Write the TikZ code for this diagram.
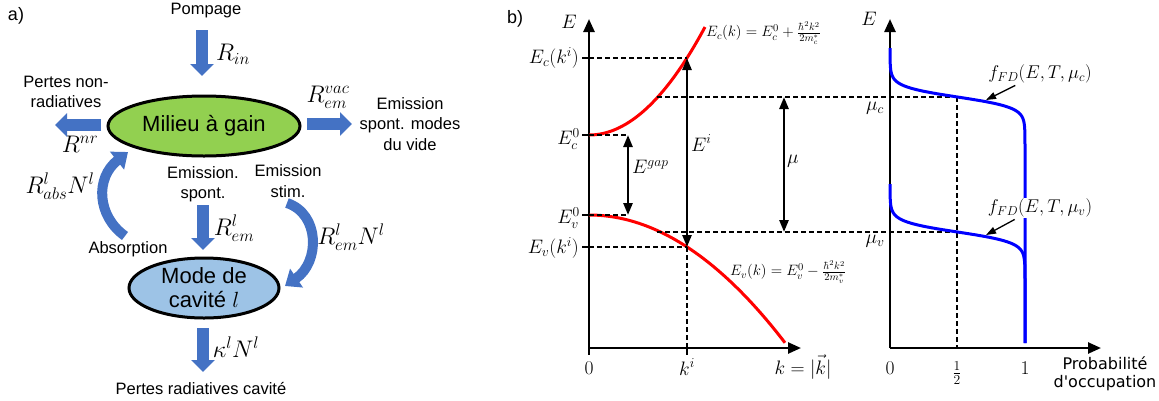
\RequirePackage{fix-cm}
\documentclass[tikz,border=0pt]{standalone}
\usepackage{fontspec}
\newfontfamily\arialf{Liberation Sans}
\newfontfamily\dejavuf{DejaVu Sans}
\usetikzlibrary{arrows.meta,shapes.geometric}
\definecolor{officeblue}{HTML}{4472C4}
\definecolor{gaingreen}{HTML}{92D050}
\definecolor{cavblue}{HTML}{9DC3E6}
\definecolor{fdblue}{HTML}{0000FF}
\begin{document}
\begin{tikzpicture}[x=1pt,y=-1pt,
  txt/.style={font=\arialf\fontsize{16.5}{20.5}\selectfont, align=center, inner sep=0pt},
  bigtxt/.style={font=\arialf\fontsize{22}{24}\selectfont, align=center, inner sep=0pt},
  mlab/.style={font=\fontsize{24}{28}\selectfont, inner sep=0pt},
  blk/.style={draw=officeblue, line width=12pt, -{Triangle[length=12pt,width=23pt]}},
  cblk/.style={draw=officeblue, line width=10pt, -{Triangle[length=14pt,width=22pt]}},
  ax/.style={line width=2.5pt, -{Triangle[length=13pt,width=11pt]}},
  dsh/.style={line width=2pt, dash pattern=on 5pt off 3pt},
  tck/.style={line width=2.5pt},
  dbl/.style={line width=2.5pt, {Triangle[length=12pt,width=9pt]}-{Triangle[length=12pt,width=9pt]}},
  blab/.style={font=\fontsize{19.5}{22}\selectfont, inner sep=0pt},
  eqlab/.style={font=\fontsize{15}{18}\selectfont, inner sep=0pt},
  fdlab/.style={font=\fontsize{18.5}{22}\selectfont, inner sep=1pt, fill=white},
  elli/.style={ellipse, draw, line width=3pt, inner sep=0pt, bigtxt},
]
\useasboundingbox (0,0) rectangle (1159,400);

% ---------------- panel a ----------------
\node[txt, font=\arialf\fontsize{18}{20}\selectfont] (la) at (16,16) {a)};
\node[txt] (pompage) at (206,11) {Pompage};
\node[elli, fill=gaingreen, minimum width=192pt, minimum height=60pt] (milieu) at (204,126) {Milieu à gain};
\node[txt] (pertes) at (66,92) {Pertes non-\\radiatives};
\node[txt] (emvide) at (410,124) {Emission\\spont. modes\\du vide};
\node[txt] (espont) at (203,184) {Emission.\\spont.};
\node[txt] (estim) at (288,181) {Emission\\stim.};
\node[txt] (absorp) at (128,249) {Absorption};
\node[elli, fill=cavblue, minimum width=150pt, minimum height=60pt] (mode) at (204,288) {Mode de\\cavité $l$};
\node[txt] (pertesrad) at (201,388) {Pertes radiatives cavité};

\node[mlab] (rin) at (233,54) {$R_{in}$};
\node[mlab] (rnr) at (80,144) {$R^{nr}$};
\node[mlab] (rvac) at (328,97) {$R_{em}^{vac}$};
\node[mlab] (rabs) at (60,186) {$R_{abs}^{l}N^{l}$};
\node[mlab] (rem) at (234,228) {$R_{em}^{l}$};
\node[mlab] (remn) at (351,237) {$R_{em}^{l}N^{l}$};
\node[mlab] (kap) at (236,347) {$\kappa^{l}N^{l}$};

\coordinate (p1) at (202,30);   \coordinate (p2) at (202,76);
\coordinate (l1) at (101,125);  \coordinate (l2) at (55,125);
\coordinate (r1) at (307,124);  \coordinate (r2) at (352,124);
\coordinate (s1) at (203,205);  \coordinate (s2) at (203,250);
\coordinate (b1) at (203,328);  \coordinate (b2) at (203,372);
\coordinate (a1) at (125,236);  \coordinate (a2) at (128,152);
\coordinate (t1) at (287,203);  \coordinate (t2) at (285,286);

\draw[blk] (p1) -- (p2);
\draw[blk] (l1) -- (l2);
\draw[blk] (r1) -- (r2);
\draw[blk] (s1) -- (s2);
\draw[blk] (b1) -- (b2);
\draw[cblk] (a1) .. controls (97,216) and (95,178) .. (a2);
\draw[cblk] (t1) .. controls (320,214) and (320,262) .. (t2);

% ---------------- panel b ----------------
\node[txt, font=\arialf\fontsize{18}{20}\selectfont] (lb) at (515,19) {b)};

\coordinate (O1) at (589,348);
\coordinate (Y1) at (589,19);
\coordinate (X1) at (801,348);
\draw[ax] (O1) -- (Y1);
\draw[ax] (O1) -- (X1);
\node[blab] (e1) at (569,22) {$E$};

% band curves
\draw[red, line width=3pt] plot[domain=0:116, samples=60, variable=\t] ({589+\t},{135-0.00802*\t*\t});
\draw[red, line width=3pt] plot[domain=0:196, samples=60, variable=\t] ({589+\t},{215+0.00333*\t*\t});

% levels
\coordinate (eck) at (589,58);  \coordinate (eckr) at (687,58);
\coordinate (ec0) at (589,135); \coordinate (ec0r) at (628,135);
\coordinate (ev0) at (589,215); \coordinate (ev0r) at (628,215);
\coordinate (evk) at (589,247); \coordinate (evkr) at (687,247);
\coordinate (muc1) at (657,97); \coordinate (muc2) at (958,97);
\coordinate (muv1) at (657,232); \coordinate (muv2) at (958,232);
\coordinate (ki) at (687,348);

\draw[dsh] (eck) -- (eckr);
\draw[dsh] (ec0) -- (ec0r);
\draw[dsh] (ev0) -- (ev0r);
\draw[dsh] (evk) -- (evkr);
\draw[dsh] (muc1) -- (muc2);
\draw[dsh] (muv1) -- (muv2);
\draw[dsh] (evkr) -- (ki);

\foreach \yy in {58,135,215,247} \draw[tck] (582,\yy) -- (589,\yy);
\draw[tck] (589,348) -- (589,355);
\draw[tck] (687,348) -- (687,355);

\draw[dbl] (ec0r) -- (ev0r);
\draw[dbl] (eckr) -- (evkr);
\draw[dbl] (784,97) -- (784,232);

\node[blab, anchor=east] (leck) at (579,58) {$E_c(k^i)$};
\node[blab, anchor=east] (lec0) at (580,139) {$E_c^0$};
\node[blab, anchor=east] (lev0) at (580,218) {$E_v^0$};
\node[blab, anchor=east] (levk) at (579,248) {$E_v(k^i)$};
\node[blab, anchor=west] (lgap) at (632,167) {$E^{gap}$};
\node[blab, anchor=west] (lei) at (691,143) {$E^i$};
\node[blab, anchor=west] (lmu) at (787,161) {$\mu$};
\node[eqlab, anchor=west] (eqc) at (706,33) {$E_c(k)=E_c^0+\frac{\hbar^2k^2}{2m_c^*}$};
\node[eqlab, anchor=west] (eqv) at (730,272) {$E_v(k)=E_v^0-\frac{\hbar^2k^2}{2m_v^*}$};
\node[blab] (t0) at (589,368) {$0$};
\node[blab] (tki) at (687,367) {$k^i$};
\node[blab] (tk) at (803,367) {$k=|\vec{k}|$};

% right graph
\coordinate (O2) at (890,348);
\coordinate (Y2) at (890,19);
\coordinate (X2) at (1101,348);
\draw[ax] (O2) -- (Y2);
\draw[ax] (O2) -- (X2);
\node[blab] (e2) at (869,19) {$E$};

\draw[dsh] (957,97) -- (957,348);

\draw[fdblue, line width=3pt] plot[domain=48:343, samples=220, variable=\t] ({890+135/(1+exp((97-\t)/5.2))},{\t});
\node[fdlab] (fdc) at (1040,74) {$f_{FD}(E,T,\mu_c)$};
\draw[fdblue, line width=3pt] plot[domain=184:343, samples=180, variable=\t] ({890+135/(1+exp((232-\t)/5.2))},{\t});
\node[fdlab] (fdv) at (1040,208) {$f_{FD}(E,T,\mu_v)$};

\draw[line width=1.3pt, -{Triangle[length=10pt,width=7pt]}] (fdc.south west) ++(28,1) -- (986,100);
\draw[line width=1.3pt, -{Triangle[length=10pt,width=7pt]}] (fdv.south west) ++(28,1) -- (986,235);

\node[blab] (lmuc) at (875,108) {$\mu_c$};
\node[blab] (lmuv) at (875,241) {$\mu_v$};
\node[blab] (u0) at (890,368) {$0$};
\node[blab] (uh) at (957,373) {$\frac{1}{2}$};
\node[blab] (u1) at (1025,368) {$1$};
\node[font=\dejavuf\fontsize{16}{18}\selectfont, align=center, inner sep=0pt] (prob) at (1105,374) {Probabilité\\d'occupation};
\end{tikzpicture}
\end{document}
